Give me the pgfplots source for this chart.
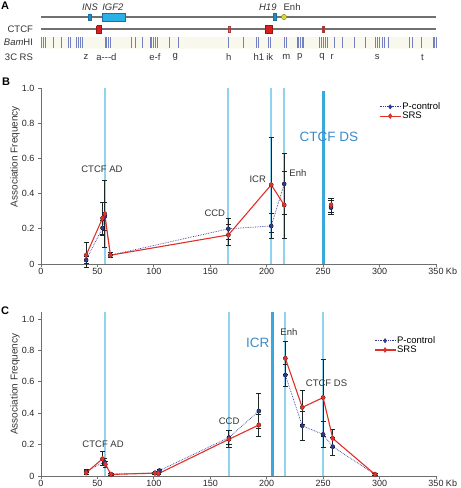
\documentclass[border=0pt]{standalone}
\usepackage{fontspec}
\setmainfont{Liberation Sans}
\usepackage{pgfplots}
\pgfplotsset{compat=1.18}
\definecolor{srs}{HTML}{E0302A}
\definecolor{pc}{HTML}{2E3A93}
\definecolor{lb}{HTML}{8FD3EE}
\definecolor{db}{HTML}{38A8DE}
\definecolor{dstext}{HTML}{3A8CCB}
\definecolor{axgray}{HTML}{6E6E6E}
\definecolor{ebar}{HTML}{1B2626}
\definecolor{txt}{HTML}{333333}
\definecolor{linegray}{HTML}{707070}
\definecolor{bamc}{HTML}{7580C0}
\definecolor{bandc}{HTML}{F9F8EC}
\definecolor{igf}{HTML}{2BB0E6}
\definecolor{igfd}{HTML}{1A6FA8}
\definecolor{ctcfr}{HTML}{D81E1E}
\definecolor{ctcfd}{HTML}{A83A3A}
\definecolor{enhc}{HTML}{D6D83C}
\definecolor{enhd}{HTML}{8C8C22}
\tikzset{
  lab/.style={font=\fontsize{9.5}{10}\selectfont, text=txt},
  biglab/.style={font=\fontsize{13.5}{14}\selectfont, text=dstext},
}
\pgfplotsset{
  panel/.style={scale only axis, width=395pt, xmin=0, xmax=350, ymin=0,
    axis x line*=bottom, axis y line*=left,
    axis line style={axgray, line width=0.8pt},
    xtick={0,50,100,150,200,250,300,350},
    xticklabels={0,50,100,150,200,250,300,{350\rlap{\ Kb}}},
    ytick={0,0.2,0.4,0.6,0.8,1},
    yticklabels={0,0.2,0.4,0.6,0.8,1.0},
    tick align=outside, major tick length=3pt,
    tick style={axgray, line width=0.8pt},
    ticklabel style={font=\fontsize{9}{10}\selectfont, text=black!85},
    xticklabel style={yshift=2.5pt},
    ylabel={Association Frequency},
    ylabel style={font=\fontsize{10}{12}\selectfont, text=txt, anchor=center},
    clip=false, unbounded coords=jump,
    legend style={draw=none, fill=none, font=\fontsize{9.5}{10}\selectfont,
      anchor=north west, legend cell align=left, row sep=-1pt,
      nodes={inner sep=1pt}},
    legend image code/.code={\draw[##1,mark=none] (0pt,0pt)--(21pt,0pt);
      \draw[##1,only marks] plot coordinates {(10.5pt,0pt)};}
  },
  vl/.style={lb, line width=2pt, forget plot},
  vd/.style={db, line width=3pt, forget plot},
  eb/.style={forget plot, only marks, mark=none,
    error bars/.cd, y dir=both, y explicit,
    error bar style={draw=ebar, line width=0.9pt},
    error mark options={rotate=90, draw=ebar, mark size=2.6pt, line width=0.8pt}},
  pcline/.style={pc, densely dotted, line width=0.7pt, mark=diamond*, mark size=2pt,
    mark options={solid, fill=pc, draw=pc}},
  srsline/.style={srs, line width=1.1pt, mark=diamond*, mark size=2pt,
    mark options={solid, fill=srs, draw=srs}},
}
\begin{document}
\begin{tikzpicture}
\useasboundingbox (0pt,0pt) rectangle (461pt,-488pt);
\node[font=\bfseries\fontsize{11}{12}\selectfont] at (5pt,-6pt) {A};
\node[font=\bfseries\fontsize{11}{12}\selectfont] at (6pt,-82pt) {B};
\node[font=\bfseries\fontsize{11}{12}\selectfont] at (5pt,-311pt) {C};

% ---------------- Panel A : map ----------------
\begin{axis}[at={(41pt,-65pt)}, anchor=south west, scale only axis,
  width=395pt, height=65pt, xmin=0, xmax=350, ymin=-65, ymax=0,
  hide axis, clip=false]
\addplot[fill=bandc, draw=none] coordinates {(0,-37) (350,-37) (350,-48.5) (0,-48.5) (0,-37)};
\addplot[linegray, line width=1.3pt] coordinates {(0,-17) (350,-17)};
\addplot[linegray, line width=1.3pt] coordinates {(0,-29) (350,-29)};
% genes
\addplot[fill=igf!80!black, draw=igfd, line width=0.4pt] coordinates {(42.2,-14) (44.4,-14) (44.4,-20) (42.2,-20) (42.2,-14)};
\addplot[fill=igf, draw=igfd, line width=0.5pt] coordinates {(54.6,-13.3) (75,-13.3) (75,-21) (54.6,-21) (54.6,-13.3)};
\addplot[fill=igf!80!black, draw=igfd, line width=0.4pt] coordinates {(206,-13.5) (208.4,-13.5) (208.4,-20.5) (206,-20.5) (206,-13.5)};
\addplot[only marks, mark=*, mark size=2.6pt, mark options={fill=enhc, draw=enhd, line width=0.5pt}] coordinates {(215.3,-17)};
% CTCF sites
\addplot[fill=ctcfr, draw=ctcfr!70!black, line width=0.4pt] coordinates {(49.3,-25.5) (53.7,-25.5) (53.7,-33) (49.3,-33) (49.3,-25.5)};
\addplot[fill=ctcfd, draw=ctcfd, line width=0.3pt] coordinates {(165.8,-26) (167.2,-26) (167.2,-32) (165.8,-32) (165.8,-26)};
\addplot[fill=ctcfr, draw=ctcfr!70!black, line width=0.4pt] coordinates {(198.8,-25) (205,-25) (205,-33) (198.8,-33) (198.8,-25)};
\addplot[fill=ctcfd, draw=ctcfd, line width=0.3pt] coordinates {(249.2,-26) (250.6,-26) (250.6,-32) (249.2,-32) (249.2,-26)};
% BamHI sites
\addplot[only marks, mark=|, mark size=5.5pt, mark options={draw=bamc, line width=0.6pt}] coordinates {
(0.6,-42.7) (2.0,-42.7) (3.5,-42.7) (10.9,-42.7) (17.7,-42.7) (24.2,-42.7) (26.3,-42.7)
(31.6,-42.7) (33.4,-42.7) (35.1,-42.7) (36.9,-42.7) (56.6,-42.7) (58,-42.7) (59.3,-42.7) (61.1,-42.7)
(80.3,-42.7) (83.2,-42.7) (89.6,-42.7) (96.5,-42.7) (98,-42.7) (99.4,-42.7) (101.2,-42.7) (102.9,-42.7)
(113.5,-42.7) (121.5,-42.7) (166.4,-42.7) (179,-42.7) (190.9,-42.7) (192.9,-42.7) (201.8,-42.7) (203.5,-42.7)
(215.9,-42.7) (217.4,-42.7) (226.8,-42.7) (228.3,-42.7) (229.8,-42.7) (231.2,-42.7) (232.7,-42.7)
(246.9,-42.7) (248.7,-42.7) (250.4,-42.7) (252.2,-42.7) (254,-42.7) (260.2,-42.7) (267,-42.7)
(277.3,-42.7) (287.3,-42.7) (296.2,-42.7) (298,-42.7) (300,-42.7) (302,-42.7) (303.8,-42.7) (307.3,-42.7)
(326.5,-42.7) (329,-42.7) (337.4,-42.7) (347.2,-42.7) (348.7,-42.7) (350.2,-42.7)};
% labels
\node[lab, font=\itshape\fontsize{9.5}{10}\selectfont] at (axis cs:43.4,-7) {INS};
\node[lab, font=\itshape\fontsize{9.5}{10}\selectfont] at (axis cs:63.7,-7) {IGF2};
\node[lab, font=\itshape\fontsize{9.5}{10}\selectfont] at (axis cs:201,-7) {H19};
\node[lab] at (axis cs:222.5,-7) {Enh};
\node[lab, anchor=east] at (axis cs:-4,-29) {CTCF};
\node[lab, anchor=east] at (axis cs:-4,-42.7) {{\itshape Bam}HI};
\node[lab, anchor=east] at (axis cs:-4,-57) {3C RS};
\node[lab] at (axis cs:39.8,-57) {z};
\node[lab] at (axis cs:58,-57) {a-{}-{}-d};
\node[lab] at (axis cs:101,-57) {e-f};
\node[lab] at (axis cs:119,-57) {g};
\node[lab] at (axis cs:166.4,-57) {h};
\node[lab] at (axis cs:193,-57) {h1};
\node[lab] at (axis cs:202.7,-57) {ik};
\node[lab] at (axis cs:217.4,-57) {m};
\node[lab] at (axis cs:229.2,-57) {p};
\node[lab] at (axis cs:249,-57) {q};
\node[lab] at (axis cs:258,-57) {r};
\node[lab] at (axis cs:298,-57) {s};
\node[lab] at (axis cs:338,-57) {t};
\end{axis}

% ---------------- Panel B ----------------
\begin{axis}[panel, at={(41pt,-264pt)}, anchor=south west, height=176pt, ymax=1,
  ylabel style={at={(axis description cs:-0.066,0.61)}},
  legend style={at={(axis description cs:0.848,0.935)}}]
\addplot[vl] coordinates {(57,0) (57,1)};
\addplot[vl] coordinates {(166,0) (166,1)};
\addplot[vl] coordinates {(204,0) (204,1)};
\addplot[vl] coordinates {(215.5,0) (215.5,1)};
\addplot[vd] coordinates {(250,0) (250,0.985)};
\addplot[eb] coordinates {
(40,0.022) +- (0,0.02) (54.5,0.205) +- (0,0.045) (56.5,0.27) +- (0,0.08) (61.5,0.05) +- (0,0.015)
(166,0.20) +- (0,0.06) (204,0.216) +- (0,0.07) (215.5,0.455) +- (0,0.175) (257,0.32) +- (0,0.04)};
\addplot[eb] coordinates {
(40,0.05) +- (0,0.07) (54.5,0.26) +- (0,0.09) (56.5,0.285) +- (0,0.19) (61.5,0.05) +- (0,0.015)
(166,0.165) +- (0,0.06) (204,0.45) +- (0,0.27) (215.5,0.335) +- (0,0.19) (257,0.335) +- (0,0.04)};
\addplot[pcline] coordinates {(40,0.022) (54.5,0.205) (56.5,0.27) (61.5,0.05) (166,0.20) (204,0.216) (215.5,0.455) (236,nan) (257,0.32)};
\addplot[srsline] coordinates {(40,0.05) (54.5,0.26) (56.5,0.285) (61.5,0.05) (166,0.165) (204,0.45) (215.5,0.335) (236,nan) (257,0.335)};
\legend{P-control, SRS}
\node[lab] at (axis cs:54,0.54) {CTCF AD};
\node[lab] at (axis cs:154,0.29) {CCD};
\node[lab] at (axis cs:192,0.48) {ICR};
\node[lab, anchor=west] at (axis cs:217,0.515) {Enh};
\node[biglab] at (axis cs:255,0.72) {CTCF DS};
\end{axis}

% ---------------- Panel C ----------------
\begin{axis}[panel, at={(41pt,-476pt)}, anchor=south west, height=164pt, ymax=1.045,
  ylabel style={at={(axis description cs:-0.066,0.56)}},
  legend style={at={(axis description cs:0.835,0.87)}}]
\addplot[vl] coordinates {(57,0) (57,1.045)};
\addplot[vl] coordinates {(166.5,0) (166.5,1.045)};
\addplot[vd] coordinates {(205,0) (205,1.045)};
\addplot[vl] coordinates {(216.5,0) (216.5,1.045)};
\addplot[vl] coordinates {(250,0) (250,1.045)};
\addplot[eb] coordinates {
(40,0.03) +- (0,0.01) (56,0.09) +- (0,0.025) (62,0.012) +- (0,0.005) (101,0.02) +- (0,0.005)
(105,0.035) +- (0,0.01) (166.5,0.245) +- (0,0.043) (193,0.414) +- (0,0.113) (216.5,0.643) +- (0,0.07)
(231.5,0.32) +- (0,0.09) (250,0.265) +- (0,0.08) (258.5,0.187) +- (0,0.057) (296,0.01) +- (0,0.004)};
\addplot[eb] coordinates {
(40,0.02) +- (0,0.01) (54.5,0.11) +- (0,0.045) (57,0.075) +- (0,0.02) (62,0.01) +- (0,0.004)
(101,0.018) +- (0,0.005) (104,0.015) +- (0,0.005) (166.5,0.234) +- (0,0.054) (193,0.325) +- (0,0.07)
(216.5,0.75) +- (0,0.105) (231.5,0.437) +- (0,0.11) (250,0.5) +- (0,0.245) (258.5,0.24) +- (0,0.06) (296,0.01) +- (0,0.004)};
\addplot[pcline] coordinates {(40,0.03) (56,0.09) (62,0.012) (101,0.02) (105,0.035) (166.5,0.245) (193,0.414) (205,nan)
(216.5,0.643) (231.5,0.32) (250,0.265) (258.5,0.187) (296,0.01)};
\addplot[srsline] coordinates {(40,0.02) (54.5,0.11) (57,0.075) (62,0.01) (101,0.018) (104,0.015) (166.5,0.234) (193,0.325) (205,nan)
(216.5,0.75) (231.5,0.437) (250,0.5) (258.5,0.24) (296,0.01)};
\legend{P-control, SRS}
\node[lab] at (axis cs:55,0.2) {CTCF AD};
\node[lab] at (axis cs:166.7,0.35) {CCD};
\node[biglab] at (axis cs:192,0.85) {ICR};
\node[lab] at (axis cs:219.7,0.92) {Enh};
\node[lab] at (axis cs:253,0.59) {CTCF DS};
\end{axis}
\end{tikzpicture}
\end{document}
